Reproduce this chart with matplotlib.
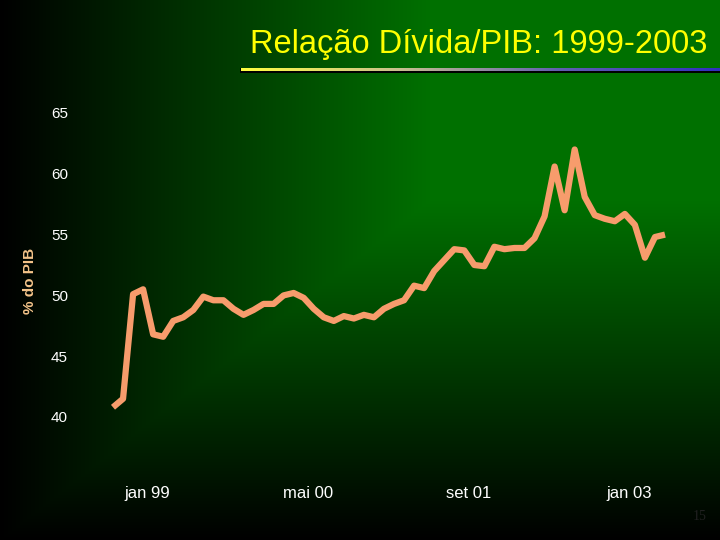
import numpy as np
import matplotlib
matplotlib.use("Agg")
import matplotlib.pyplot as plt

# monthly debt/GDP ratio (% do PIB), first point = out 98
divida_pib = [40.8, 41.5, 50.1, 50.5, 46.8, 46.6, 47.9, 48.2, 48.8, 49.9,
              49.6, 49.6, 48.9, 48.4, 48.8, 49.3, 49.3, 50.0, 50.2, 49.8,
              48.9, 48.2, 47.9, 48.3, 48.1, 48.4, 48.2, 48.9, 49.3, 49.6,
              50.8, 50.6, 52.0, 52.9, 53.8, 53.7, 52.5, 52.4, 54.0, 53.8,
              53.9, 53.9, 54.7, 56.5, 60.6, 57.0, 62.0, 58.1, 56.6, 56.3,
              56.1, 56.7, 55.8, 53.1, 54.8, 55.0]
tick_idx = [3, 19, 35, 51]
tick_labels = ["jan 99", "mai 00", "set 01", "jan 03"]
y_ticks = [40, 45, 50, 55, 60, 65]

W, H = 720, 540
fig = plt.figure(figsize=(7.2, 5.4), dpi=100)

# background gradient (dark green -> black at left and bottom)
bg = fig.add_axes([0, 0, 1, 1])
xx, yy = np.meshgrid(np.arange(W), np.arange(H))
hx = np.clip(xx / 430.0, 0, 1)
vy = np.clip((H - yy) / 340.0, 0, 1)
g = np.minimum(hx, vy) * 0.44
img = np.dstack([np.zeros_like(g), g, np.zeros_like(g)])
bg.imshow(img, aspect="auto", extent=[0, W, H, 0])
bg.set_axis_off()

# title + underline
fig.text(707 / W, 1 - 44 / H, "Relação Dívida/PIB: 1999-2003", color="#FFFF00",
         fontsize=23.5, family="Liberation Sans", ha="right", va="center")
sh = fig.add_axes([240 / W, 1 - 73 / H, 480 / W, 5 / H])
sh.set_facecolor("black")
sh.set_xticks([]); sh.set_yticks([])
for s in sh.spines.values():
    s.set_visible(False)
ul = fig.add_axes([241 / W, 1 - 71 / H, 479 / W, 3 / H])
grad = matplotlib.colors.LinearSegmentedColormap.from_list(
    "ul", ["#FFFF40", "#C8C090", "#6060B0", "#3030C0"])
ul.imshow(np.linspace(0, 1, 256)[None, :], cmap=grad, aspect="auto")
ul.set_axis_off()

# main chart
left, right, top, bottom = 100, 680, 100, 430
ax = fig.add_axes([left / W, 1 - bottom / H, (right - left) / W, (bottom - top) / H])
ax.patch.set_visible(False)
x = np.arange(len(divida_pib))
ax.plot(x, divida_pib, color="#F79C6C", lw=4.5, solid_joinstyle="round",
        solid_capstyle="butt")

px_per_month = (665 - 113) / (len(divida_pib) - 1)
ax.set_xlim((left - 113) / px_per_month, (right - 113) / px_per_month)
px_per_unit = (417 - 113) / 25.0
ax.set_ylim(40 - (bottom - 417) / px_per_unit, 65 + (113 - top) / px_per_unit)

ax.set_yticks(y_ticks)
ax.set_xticks([t + 0.4 for t in tick_idx])
ax.set_xticklabels(tick_labels)
ax.tick_params(axis="y", length=0, pad=23, labelsize=11, labelcolor="white")
ax.tick_params(axis="x", length=0, pad=40, labelsize=12, labelcolor="white")
for lab in ax.get_xticklabels() + ax.get_yticklabels():
    lab.set_family("Liberation Sans")
for s in ax.spines.values():
    s.set_visible(False)

fig.text(30 / W, 1 - 281 / H, "% do PIB", rotation=90, color="#F4C48A",
         fontsize=11, fontweight="bold", family="Liberation Sans",
         ha="center", va="center")
fig.text(700 / W, 1 - 516 / H, "15", color="#202020", fontsize=10,
         family="Liberation Serif", ha="center", va="center")

fig.savefig("out.png", dpi=100, facecolor="black")
